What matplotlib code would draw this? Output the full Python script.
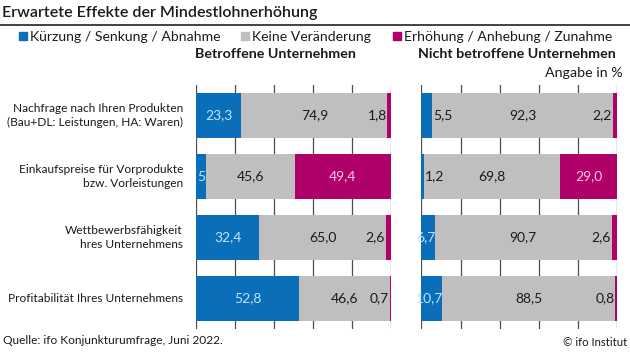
import matplotlib
matplotlib.use('Agg')
import matplotlib.pyplot as plt
from matplotlib.lines import Line2D

plt.rcParams['font.family'] = ['Lato', 'DejaVu Sans']

categories = [
    'Nachfrage nach Ihren Produkten\n(Bau+DL: Leistungen, HA: Waren)',
    'Einkaufspreise für Vorprodukte\nbzw. Vorleistungen',
    'Wettbewerbsfähigkeit\nhres Unternehmens',
    'Profitabilität Ihres Unternehmens',
]
series_names = ['Kürzung / Senkung / Abnahme', 'Keine Veränderung',
                'Erhöhung / Anhebung / Zunahme']

# Betroffene Unternehmen
aff_down = [23.3, 5.0, 32.4, 52.8]
aff_same = [74.9, 45.6, 65.0, 46.6]
aff_up = [1.8, 49.4, 2.6, 0.7]

# Nicht betroffene Unternehmen
non_down = [5.5, 1.2, 6.7, 10.7]
non_same = [92.3, 69.8, 90.7, 88.5]
non_up = [2.2, 29.0, 2.6, 0.8]

BLUE = '#0a6fb8'
GREY = '#bfbfbf'
MAGENTA = '#b0006a'
LIGHT_BLUE = '#bfe3ff'
LIGHT_PINK = '#ffc6ea'
colors = [BLUE, GREY, MAGENTA]


def fmt(v):
    return f'{v:.1f}'.replace('.', ',')


def panel(ax, down, same, up, narrow_inside):
    y = list(range(len(down)))
    for x in [0, 20, 40, 60, 80, 100]:
        ax.axvline(x, color='#4d4d4d', lw=0.9, zorder=0)
    left_same = down
    left_up = [d + s for d, s in zip(down, same)]
    b1 = ax.barh(y, down, height=0.75, color=BLUE, zorder=2)
    ax.barh(y, same, left=left_same, height=0.75, color=GREY, zorder=2)
    ax.barh(y, up, left=left_up, height=0.75, color=MAGENTA, zorder=2)
    fs = 10
    for i in y:
        d, s, u = down[i], same[i], up[i]
        # blue
        if d >= 15:
            ax.text(d / 2, i, fmt(d), ha='center', va='center', color=LIGHT_BLUE,
                    fontsize=fs, zorder=3)
        elif narrow_inside:
            t = ax.text(0.4, i, fmt(d), ha='left', va='center', color=LIGHT_BLUE,
                        fontsize=fs, zorder=3, clip_on=True)
            t.set_clip_path(b1.patches[i])
        elif d >= 6:
            ax.text(d + 0.6, i, fmt(d), ha='right', va='center', color=LIGHT_BLUE,
                    fontsize=fs, zorder=3)
        else:
            ax.text(d + 0.4, i, fmt(d), ha='left', va='center', color='#1a1a1a',
                    fontsize=fs, zorder=3)
        # grey
        ax.text(d + s / 2, i, fmt(s), ha='center', va='center', color='#1a1a1a',
                fontsize=fs, zorder=3)
        # magenta
        if u >= 15:
            ax.text(d + s + u / 2, i, fmt(u), ha='center', va='center',
                    color=LIGHT_PINK, fontsize=fs, zorder=3)
        else:
            ax.text(d + s - 0.4, i, fmt(u), ha='right', va='center',
                    color='#1a1a1a', fontsize=fs, zorder=3)
    ax.set_xlim(0, 100)
    ax.set_ylim(len(down) - 0.5, -0.5)
    for sp in ax.spines.values():
        sp.set_visible(False)
    ax.set_xticks([])
    ax.set_yticks([])


fig = plt.figure(figsize=(6.3, 3.54), dpi=100)
W, H = 630, 354


def px_axes(x0, x1, y_top, y_bot):
    return fig.add_axes([x0 / W, 1 - y_bot / H, (x1 - x0) / W, (y_bot - y_top) / H])


ax1 = px_axes(196, 391, 85, 329)
ax2 = px_axes(421.5, 617, 85, 329)
panel(ax1, aff_down, aff_same, aff_up, narrow_inside=True)
panel(ax2, non_down, non_same, non_up, narrow_inside=False)

for i, c in enumerate(categories):
    ax1.text(-0.067, i, c, transform=ax1.get_yaxis_transform(), ha='right',
             va='center', fontsize=8.6, color='#1a1a1a', linespacing=1.3)

# title and rule
fig.text(2 / W, 1 - 13 / H, 'Erwartete Effekte der Mindestlohnerhöhung',
         fontsize=11.5, fontweight='semibold', va='center', ha='left', color='#1a1a1a')
fig.add_artist(Line2D([0, 1], [1 - 24.5 / H, 1 - 24.5 / H], color='#333333', lw=1.3))

# legend
handles = [Line2D([], [], marker='s', linestyle='none', markersize=5.8,
                  markerfacecolor=c, markeredgecolor=c) for c in colors]
fig.legend(handles, series_names, loc='center right',
           bbox_to_anchor=(619 / W, 1 - 37 / H), ncol=3, frameon=False,
           fontsize=10.1, handletextpad=0.15, columnspacing=1.45,
           handlelength=0.7, borderpad=0, labelcolor='#1a1a1a')

fig.text(275 / W, 1 - 54 / H, 'Betroffene Unternehmen', ha='center', va='center',
         fontsize=10.3, fontweight='bold', color='#1a1a1a')
fig.text(616 / W, 1 - 54 / H, 'Nicht betroffene Unternehmen', ha='right',
         va='center', fontsize=10.3, fontweight='bold', color='#1a1a1a')
fig.text(623 / W, 1 - 73 / H, 'Angabe in %', ha='right', va='center',
         fontsize=10.3, color='#1a1a1a')

fig.text(3 / W, 1 - 341 / H, 'Quelle: ifo Konjunkturumfrage, Juni 2022.',
         ha='left', va='center', fontsize=8.6, color='#1a1a1a')
fig.text(627 / W, 1 - 343 / H, '© ifo Institut', ha='right', va='center',
         fontsize=8.2, color='#1a1a1a')

fig.savefig('out.png', dpi=100)
